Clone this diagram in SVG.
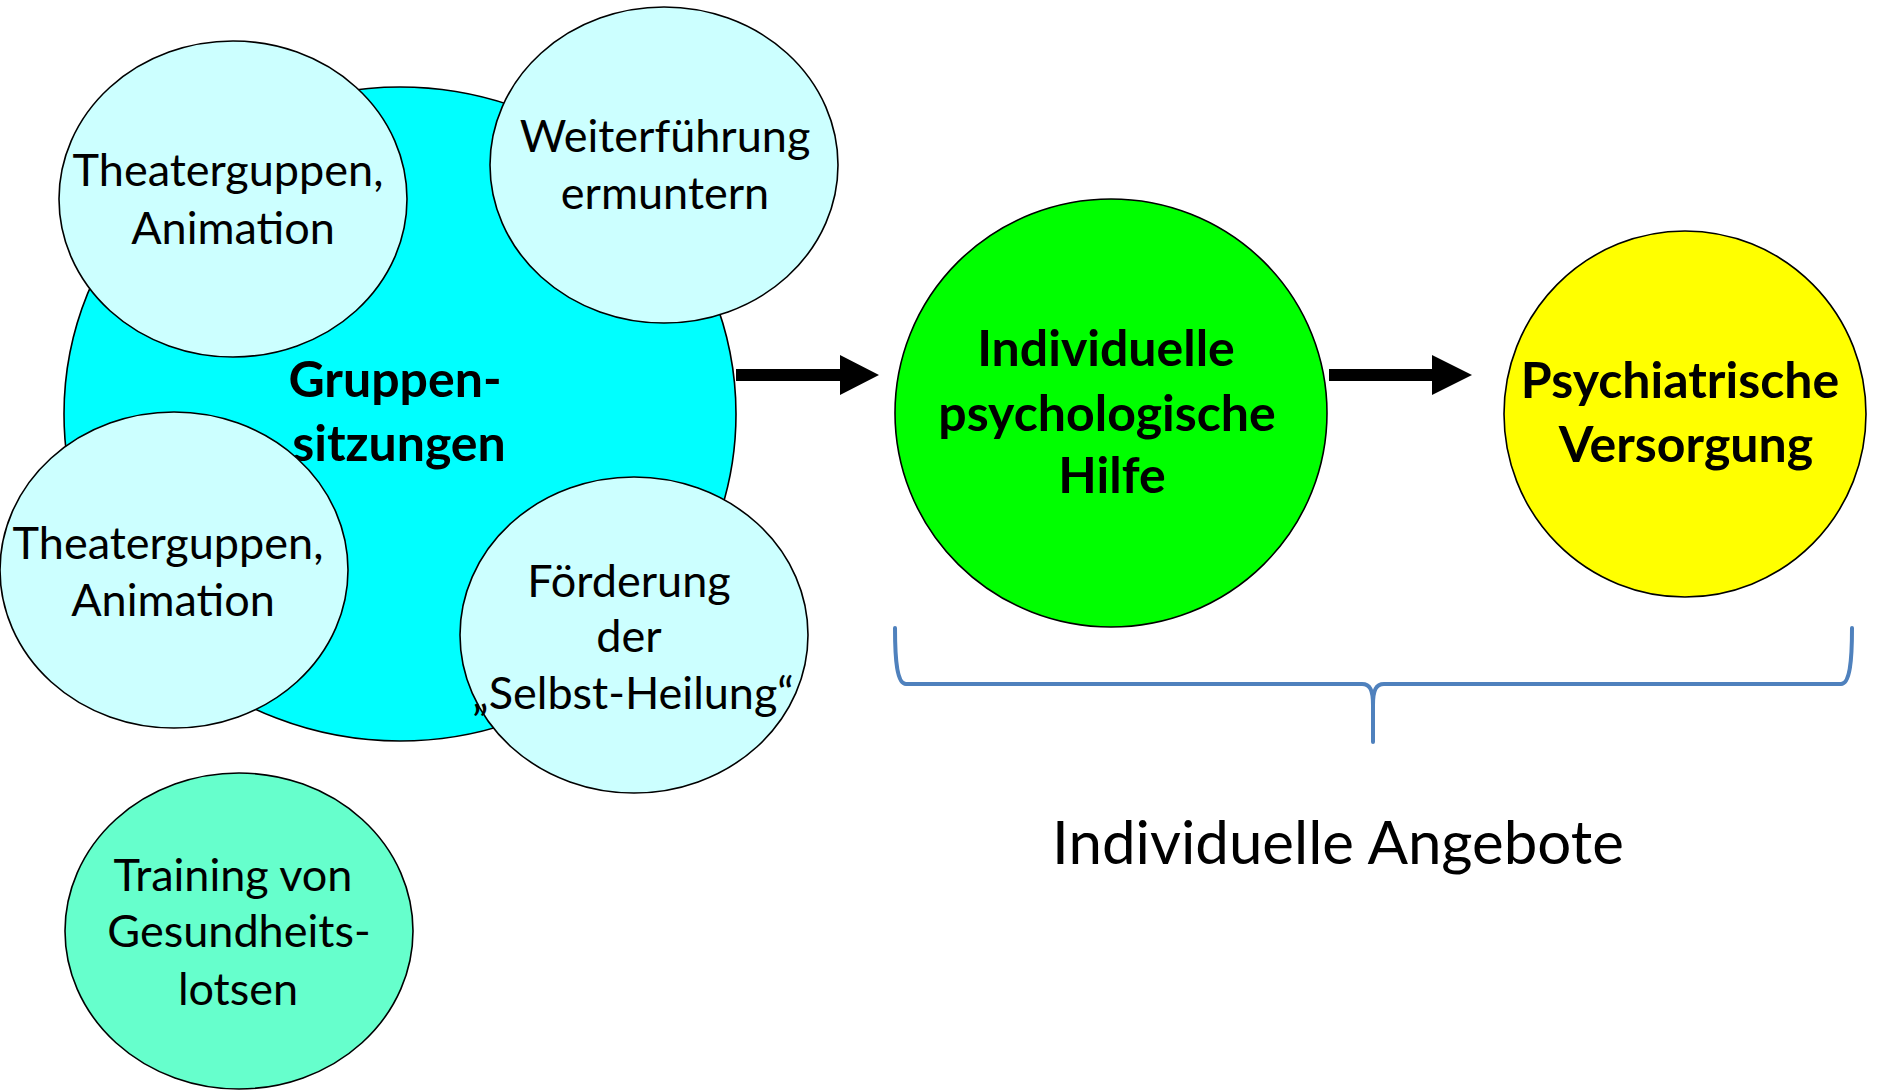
<svg xmlns="http://www.w3.org/2000/svg" width="1878" height="1090" viewBox="0 0 1878 1090">
<style>
.c{stroke:#000;stroke-width:1.6}
.t{font-family:Lato,"Liberation Sans",sans-serif;font-size:45px;fill:#000;text-anchor:middle}
.b{font-family:Lato,"Liberation Sans",sans-serif;font-size:50px;font-weight:bold;fill:#000;text-anchor:middle}
.brace{fill:none;stroke:#4F81BD;stroke-width:4;stroke-linecap:round;stroke-linejoin:round}
</style>
<rect width="1878" height="1090" fill="#fff"/>
<g id="gruppensitzungen">
<ellipse class="c" cx="400" cy="414" rx="336" ry="327" fill="#00FFFF"/>
<text class="b" x="395" y="397">Gruppen-</text>
<text class="b" x="399" y="461">sitzungen</text>
</g>
<g id="theater1">
<ellipse class="c" cx="233" cy="199" rx="174" ry="158" fill="#CCFFFF"/>
<text class="t" x="228" y="186">Theaterguppen,</text>
<text class="t" x="233" y="244">Animation</text>
</g>
<g id="weiterfuehrung">
<ellipse class="c" cx="664" cy="165" rx="174" ry="158" fill="#CCFFFF"/>
<text class="t" x="665" y="152">Weiterführung</text>
<text class="t" x="665" y="209">ermuntern</text>
</g>
<g id="theater2">
<ellipse class="c" cx="174" cy="570" rx="174" ry="158" fill="#CCFFFF"/>
<text class="t" x="168" y="559">Theaterguppen,</text>
<text class="t" x="173" y="616">Animation</text>
</g>
<g id="foerderung">
<ellipse class="c" cx="634" cy="635" rx="174" ry="158" fill="#CCFFFF"/>
<text class="t" x="629" y="597">Förderung</text>
<text class="t" x="629" y="652">der</text>
<text class="t" x="633" y="709">„Selbst-Heilung“</text>
</g>
<g id="training">
<ellipse class="c" cx="239" cy="931" rx="174" ry="158" fill="#66FFCC"/>
<text class="t" x="233" y="891">Training von</text>
<text class="t" x="239" y="947">Gesundheits-</text>
<text class="t" x="238" y="1005">lotsen</text>
</g>
<g id="individuelle-hilfe">
<ellipse class="c" cx="1111" cy="413" rx="216" ry="214" fill="#00FF00"/>
<text class="b" x="1106" y="366">Individuelle</text>
<text class="b" x="1107" y="431">psychologische</text>
<text class="b" x="1112" y="493">Hilfe</text>
</g>
<g id="psychiatrische-versorgung">
<ellipse class="c" cx="1685" cy="414" rx="181" ry="183" fill="#FFFF00"/>
<text class="b" x="1680" y="398">Psychiatrische</text>
<text class="b" x="1686" y="462">Versorgung</text>
</g>
<g id="connectors">
<polygon points="736,369 840,369 840,355 879,375 840,395 840,381 736,381" fill="#000"/>
<polygon points="1329,369 1432,369 1432,355 1472,375 1432,395 1432,381 1329,381" fill="#000"/>
<path class="brace" d="M895,628 C895,660 897,684 906,684 L1362,684 C1370,684 1373,690 1373,705 L1373,742 M1373,705 C1373,690 1376,684 1384,684 L1841,684 C1850,684 1852,660 1852,628"/>
</g>
<g id="label-individuelle-angebote">
<text x="1338" y="864" style="font-family:Lato,'Liberation Sans',sans-serif;font-size:60px;fill:#000;text-anchor:middle">Individuelle Angebote</text>
</g>
</svg>
